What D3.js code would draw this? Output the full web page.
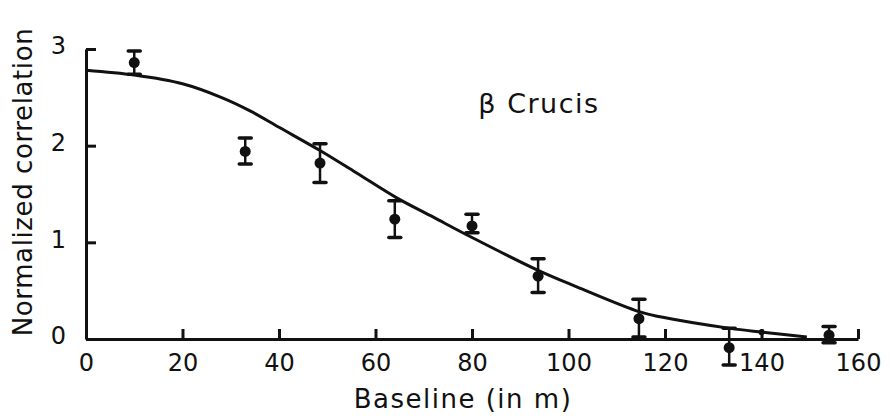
<!DOCTYPE html>
<html>
<head>
<meta charset="utf-8">
<script src="https://cdn.jsdelivr.net/npm/d3@7"></script>
<style>
  html, body { margin: 0; padding: 0; background: #fff; }
  svg { display: block; }
  text { font-family: "DejaVu Sans", "Noto Sans", sans-serif; fill: #111; }
</style>
</head>
<body>
<svg id="chart" width="890" height="418"></svg>
<script>
// Measured visibilities of beta Crucis against baseline
const baseline = [10, 33, 48.5, 64, 80, 93.7, 114.6, 133.3, 140, 154];
const correlation = [2.86, 1.94, 1.82, 1.24, 1.17, 0.65, 0.21, -0.09, 0.07, 0.04];
const errUpper = [2.98, 2.08, 2.02, 1.43, 1.29, 0.83, 0.41, 0.11, 0.07, 0.13];
const errLower = [2.74, 1.81, 1.62, 1.05, 1.10, 0.48, 0.02, -0.27, 0.07, -0.04];

// Fitted uniform-disc model curve
const fitX = [0, 10, 20, 28, 34, 40, 48.5, 56, 64.4, 72, 79.6, 93.7, 101.7, 114.8, 119, 133.5, 140.3, 149.4];
const fitY = [2.78, 2.73, 2.64, 2.50, 2.36, 2.19, 1.95, 1.72, 1.46, 1.26, 1.06, 0.71, 0.54, 0.28, 0.23, 0.11, 0.07, 0.02];

const xTicks = [0, 20, 40, 60, 80, 100, 120, 140, 160];
const yTicks = [0, 1, 2, 3];

const svg = d3.select("#chart");
const margin = { left: 86, right: 32, top: 49, bottom: 79 };
const W = 890, H = 418;

const x = d3.scaleLinear().domain([0, 160]).range([margin.left, W - margin.right]);
const y = d3.scaleLinear().domain([0, 3]).range([H - margin.bottom, margin.top]);

// Axes with inward ticks
const xAxis = d3.axisBottom(x).tickValues(xTicks).tickFormat(d3.format("d"))
  .tickSize(-10).tickSizeOuter(0).tickPadding(19);
const yAxis = d3.axisLeft(y).tickValues(yTicks).tickFormat(d3.format("d"))
  .tickSize(-10).tickSizeOuter(0).tickPadding(20);

const gx = svg.append("g").attr("transform", `translate(0,${y(0)})`).call(xAxis);
const gy = svg.append("g").attr("transform", `translate(${x(0)},0)`).call(yAxis);

[gx, gy].forEach(g => {
  g.select(".domain").attr("stroke", "#111").attr("stroke-width", 3);
  g.selectAll(".tick line").attr("stroke", "#111").attr("stroke-width", 3);
  g.selectAll(".tick text").style("font-size", "24px").attr("fill", "#111");
});
gx.selectAll(".tick text").attr("dy", "0.55em");
gy.selectAll(".tick text").attr("dy", "0.2em");

// Model curve
const line = d3.line().x(d => x(d[0])).y(d => y(d[1])).curve(d3.curveCatmullRom.alpha(0.5));
svg.append("path")
  .datum(fitX.map((v, i) => [v, fitY[i]]))
  .attr("d", line)
  .attr("fill", "none")
  .attr("stroke", "#111")
  .attr("stroke-width", 3);

// Data points with error bars
const pts = baseline.map((b, i) => ({ b, c: correlation[i], hi: errUpper[i], lo: errLower[i] }));
const g = svg.append("g");
const withErr = pts.filter(d => d.hi - d.lo > 0.01);

g.selectAll("line.err").data(withErr).join("line")
  .attr("class", "err")
  .attr("x1", d => x(d.b)).attr("x2", d => x(d.b))
  .attr("y1", d => y(d.hi)).attr("y2", d => y(d.lo))
  .attr("stroke", "#111").attr("stroke-width", 2.5);

["hi", "lo"].forEach(k => {
  g.selectAll("line.cap-" + k).data(withErr).join("line")
    .attr("class", "cap-" + k)
    .attr("x1", d => x(d.b) - 6).attr("x2", d => x(d.b) + 6)
    .attr("y1", d => y(d[k])).attr("y2", d => y(d[k]))
    .attr("stroke", "#111").attr("stroke-width", 3.5)
    .attr("stroke-linecap", "round");
});

g.selectAll("circle").data(pts).join("circle")
  .attr("cx", d => x(d.b)).attr("cy", d => y(d.c))
  .attr("r", d => d.hi - d.lo > 0.01 ? 5.5 : 3)
  .attr("fill", "#111");

// Labels
svg.append("text")
  .attr("x", 539).attr("y", 113)
  .attr("text-anchor", "middle")
  .style("font-size", "27px")
  .style("letter-spacing", "1.5px")
  .text("β Crucis");

svg.append("text")
  .attr("x", 463).attr("y", 408)
  .attr("text-anchor", "middle")
  .style("font-size", "26px")
  .style("letter-spacing", "1.5px")
  .text("Baseline (in m)");

svg.append("text")
  .attr("transform", `translate(32,182) rotate(-90)`)
  .attr("text-anchor", "middle")
  .style("font-size", "26px")
  .style("letter-spacing", "0.6px")
  .text("Normalized correlation");
</script>
</body>
</html>
